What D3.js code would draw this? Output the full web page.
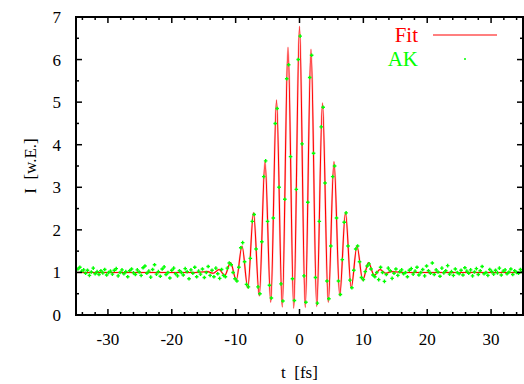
<!DOCTYPE html>
<html><head><meta charset="utf-8">
<script src="https://cdn.jsdelivr.net/npm/d3@7"></script>
<style>body{margin:0;background:#fff}</style></head>
<body>
<svg id="c" width="524" height="384"></svg>
<script>
// Fit curve: extrema (t in fs, I in w.E.)
const fitT = [-35, -16.2, -14.4, -13.5, -12.6, -11.7, -10.8, -9.9, -9.0, -8.1, -7.2, -6.3, -5.4, -4.5, -3.6, -2.7, -1.8, -0.9, 0,
              0.9, 1.8, 2.7, 3.6, 4.5, 5.4, 6.3, 7.2, 8.1, 9.0, 9.9, 10.8, 11.7, 12.6, 13.5, 14.4, 16.2, 35];
const fitI = [1.0, 1.0, 1.02, 0.98, 1.07, 0.93, 1.23, 0.82, 1.62, 0.64, 2.4, 0.45, 3.6, 0.3, 5.05, 0.19, 6.29, 0.16, 6.78,
              0.18, 6.24, 0.2, 4.98, 0.3, 3.6, 0.46, 2.4, 0.64, 1.62, 0.82, 1.23, 0.93, 1.07, 0.98, 1.02, 1.0, 1.0];

// AK measurement: sampled every 0.3 fs starting at -34.7 fs
const akStart = -34.7, akStep = 0.3;
const akI = [
 1.08, 1.12, 1.03, 1.06, 0.98, 1.05, 0.93, 1.01, 1.1, 0.97,
 1.02, 0.95, 1.04, 0.99, 1.07, 0.94, 1.0, 1.03, 0.96, 1.05,
 1.09, 0.92, 1.0, 1.06, 0.97, 1.02, 0.9, 1.04, 1.08, 0.99,
 0.95, 1.06, 1.01, 0.93, 1.11, 1.15, 0.98, 1.03, 0.89, 1.07,
 1.18, 0.96, 1.02, 0.91, 1.08, 1.13, 0.95, 1.0, 0.87, 1.05,
 1.1, 0.97, 0.92, 1.04, 1.0, 0.94, 1.09, 1.02, 0.85, 1.06,
 0.98, 1.12, 0.9, 1.03, 0.96, 1.08, 0.88, 1.0, 1.14, 0.93,
 1.05, 0.9, 1.1, 0.97, 0.86, 1.07,
 0.93, 0.9, 1.1, 1.22, 1.18, 1.0, 0.85, 0.8, 1.12, 1.58,
 1.7, 1.25, 0.72, 0.66, 1.33, 2.2, 2.36, 1.55, 0.66, 0.5,
 1.72, 3.25, 3.62, 2.2, 0.7, 0.4, 2.28, 4.5, 4.85, 3.0,
 0.73, 0.33, 2.72, 5.55, 5.88, 3.72, 0.85, 0.34, 2.95, 6.0,
 6.55, 4.02, 0.92, 0.3, 2.65, 5.58, 6.1, 3.8, 0.88, 0.28,
 2.2, 4.42, 4.88, 3.1, 0.8, 0.38, 1.62, 3.25, 3.5, 2.28,
 0.8, 0.48, 1.3, 2.18, 2.4, 1.62, 0.82, 0.64, 1.05, 1.55,
 1.62, 1.25, 0.88, 0.83, 1.02, 1.15, 1.2, 1.08, 0.94, 0.9, 1.0,
 0.83, 1.12, 1.0, 0.79, 0.95, 1.1, 1.04, 0.86, 0.98, 1.08,
 0.93, 1.02, 1.06, 0.97, 1.0, 0.9, 1.05, 1.09, 0.96, 1.03,
 1.12, 0.94, 1.0, 1.07, 0.92, 1.15, 1.04, 0.98, 1.22, 0.95,
 1.06, 1.01, 0.91, 1.1, 0.99, 1.04, 1.16, 0.96, 1.02, 0.93,
 1.08, 1.0, 0.97, 1.05, 0.94, 1.11, 1.03, 0.98, 1.06, 0.92,
 1.01, 1.09, 0.95, 1.04, 1.14, 0.97, 1.0, 0.93, 1.07, 1.02,
 0.96, 1.05, 0.99, 1.1, 0.94, 1.03, 1.06, 0.97, 1.01, 1.08,
 0.95, 1.04, 1.0, 0.98, 1.07, 1.02
];
const akT = akI.map((_, i) => +(akStart + i * akStep).toFixed(2));

const xTicks = [-30, -20, -10, 0, 10, 20, 30];
const xMinor = d3.range(-34, 35, 2);
const yTicks = [0, 1, 2, 3, 4, 5, 6, 7];
const yMinor = d3.range(0.5, 7, 1);
const seriesNames = ["Fit", "AK"];
const xTitle = "t  [fs]", yTitle = "I  [w.E.]";

const L = 76, R = 523, T = 17, B = 315;
const x = d3.scaleLinear().domain([-35, 35]).range([L, R]);
const y = d3.scaleLinear().domain([0, 7]).range([B, T]);
const svg = d3.select("#c");
const font = "'Liberation Serif','Times New Roman',serif";

svg.append("clipPath").attr("id", "clip").append("rect")
  .attr("x", L).attr("y", T).attr("width", R - L).attr("height", B - T);

const fitData = fitT.map((t, i) => [t, fitI[i]]);
const line = d3.line().x(d => x(d[0])).y(d => y(d[1])).curve(d3.curveMonotoneX);
const g = svg.append("g").attr("clip-path", "url(#clip)");
g.append("path").datum(fitData).attr("d", line).attr("fill", "none")
  .attr("stroke", "#ff9a9a").attr("stroke-width", 2.0).attr("opacity", 0.6);
g.append("path").datum(fitData).attr("d", line).attr("fill", "none")
  .attr("stroke", "#ff0000").attr("stroke-width", 1.1);

const cross = (sel, s) => sel.append("path")
  .attr("d", `M${-s},0H${s}M0,${-s}V${s}`)
  .attr("stroke", "#00ff00").attr("stroke-width", 1.4).attr("fill", "none");
g.selectAll("g.pt").data(akT.map((t, i) => [t, akI[i]])).join("g")
  .attr("class", "pt")
  .attr("transform", d => `translate(${x(d[0])},${y(d[1])})`)
  .each(function () { cross(d3.select(this), 1.8); });

// axes: ticks inward on all four sides
const ax = svg.append("g").attr("stroke", "#000").attr("stroke-width", 1.5);
xTicks.forEach(v => {
  ax.append("line").attr("x1", x(v)).attr("x2", x(v)).attr("y1", B).attr("y2", B - 6);
  ax.append("line").attr("x1", x(v)).attr("x2", x(v)).attr("y1", T).attr("y2", T + 6);
});
xMinor.filter(v => v % 10 !== 0).forEach(v => {
  ax.append("line").attr("x1", x(v)).attr("x2", x(v)).attr("y1", B).attr("y2", B - 3);
  ax.append("line").attr("x1", x(v)).attr("x2", x(v)).attr("y1", T).attr("y2", T + 3);
});
yTicks.forEach(v => {
  ax.append("line").attr("x1", L).attr("x2", L + 6).attr("y1", y(v)).attr("y2", y(v));
  ax.append("line").attr("x1", R).attr("x2", R - 6).attr("y1", y(v)).attr("y2", y(v));
});
yMinor.forEach(v => {
  ax.append("line").attr("x1", L).attr("x2", L + 3).attr("y1", y(v)).attr("y2", y(v));
  ax.append("line").attr("x1", R).attr("x2", R - 3).attr("y1", y(v)).attr("y2", y(v));
});
svg.append("rect").attr("x", L).attr("y", T).attr("width", R - L).attr("height", B - T)
  .attr("fill", "none").attr("stroke", "#000").attr("stroke-width", 2);

const txt = svg.append("g").attr("font-family", font).attr("font-size", 17).attr("fill", "#000");
xTicks.forEach(v => txt.append("text").attr("x", x(v)).attr("y", B + 30)
  .attr("text-anchor", "middle").text(v));
yTicks.forEach(v => txt.append("text").attr("x", L - 15).attr("y", y(v) + 6)
  .attr("text-anchor", "end").text(v));
txt.append("text").attr("x", (L + R) / 2).attr("y", 378).attr("text-anchor", "middle")
  .style("white-space", "pre").text(xTitle);
txt.append("text").attr("transform", `translate(36,${(T + B) / 2}) rotate(-90)`)
  .attr("text-anchor", "middle").style("white-space", "pre").text(yTitle);

// legend
const lg = svg.append("g").attr("font-family", font).attr("font-size", 21);
lg.append("text").attr("x", 418).attr("y", 42).attr("text-anchor", "end").attr("fill", "#ff0000").text(seriesNames[0]);
lg.append("line").attr("x1", 433).attr("x2", 497).attr("y1", 35).attr("y2", 35).attr("stroke", "#ff0000").attr("stroke-width", 1.1);
lg.append("text").attr("x", 418).attr("y", 66).attr("text-anchor", "end").attr("fill", "#00ff00").text(seriesNames[1]);
const lp = lg.append("g").attr("transform", "translate(465,59)");
lp.append("circle").attr("r", 1).attr("fill", "#00ff00");
</script>
</body></html>
